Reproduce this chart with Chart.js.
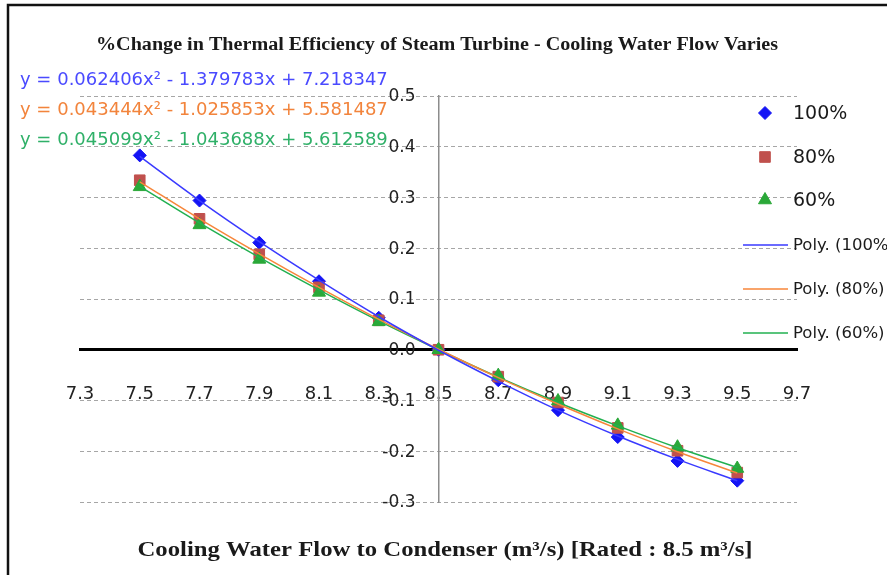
<!DOCTYPE html>
<html>
<head>
<meta charset="utf-8">
<script src="https://cdn.jsdelivr.net/npm/chart.js@4.4.1/dist/chart.umd.min.js"></script>
<style>
  html, body { margin: 0; padding: 0; background: #fff; }
</style>
</head>
<body>
<canvas id="myChart" width="887" height="575"></canvas>
<script>
// cooling water flow (m3/s)
var flow = [7.5, 7.7, 7.9, 8.1, 8.3, 8.5, 8.7, 8.9, 9.1, 9.3, 9.5];

// % change in thermal efficiency
var eff100 = [0.383, 0.294, 0.211, 0.135, 0.063, 0.0, -0.060, -0.119, -0.172, -0.219, -0.258];
var eff80 = [0.334, 0.258, 0.188, 0.123, 0.058, 0.0, -0.053, -0.104, -0.154, -0.199, -0.242];
var eff60 = [0.321, 0.246, 0.178, 0.113, 0.055, 0.0, -0.051, -0.101, -0.149, -0.192, -0.234];

// trend curves, read at the same flows
var trend100 = [0.381, 0.294, 0.213, 0.137, 0.065, -0.001, -0.062, -0.119, -0.170, -0.216, -0.258];
var trend80 = [0.331, 0.258, 0.189, 0.123, 0.060, 0.001, -0.055, -0.107, -0.156, -0.201, -0.243];
var trend60 = [0.322, 0.250, 0.182, 0.118, 0.057, 0.000, -0.054, -0.104, -0.150, -0.193, -0.232];

var xTicks = [7.3, 7.5, 7.7, 7.9, 8.1, 8.3, 8.5, 8.7, 8.9, 9.1, 9.3, 9.5, 9.7];
var yTicks = [-0.3, -0.2, -0.1, 0.0, 0.1, 0.2, 0.3, 0.4, 0.5];
var yAxisAt = 8.5;

var seriesNames = ["100%", "80%", "60%"];
var trendNames = ["Poly. (100%)", "Poly. (80%)", "Poly. (60%)"];
var equations = [
  "y = 0.062406x\u00b2 - 1.379783x + 7.218347",
  "y = 0.043444x\u00b2 - 1.025853x + 5.581487",
  "y = 0.045099x\u00b2 - 1.043688x + 5.612589"
];
var chartTitle = "%Change in Thermal Efficiency of Steam Turbine - Cooling Water Flow Varies";
var xTitle = "Cooling Water Flow to Condenser (m\u00b3/s) [Rated : 8.5 m\u00b3/s]";

var markerColors = ["#1414f5", "#c0504d", "#2aa838"];
var trendColors = ["#3a3aff", "#f7863a", "#22b050"];
var eqColors = ["#4a4aff", "#f2843c", "#2fb068"];
var markerStyles = ["rectRot", "rect", "triangle"];
var markerSizes = [6.5, 7.5, 7.5];

function pairs(ys) {
  return flow.map(function(x, i) { return { x: x, y: ys[i] }; });
}

var effData = [eff100, eff80, eff60];
var trendData = [trend100, trend80, trend60];
var datasets = [];

trendData.forEach(function(t, i) {
  datasets.push({
    label: trendNames[i],
    data: pairs(t),
    showLine: true,
    borderColor: trendColors[i],
    borderWidth: 1.5,
    pointRadius: 0,
    tension: 0.4,
    order: 1 + i
  });
});
effData.forEach(function(e, i) {
  datasets.push({
    label: seriesNames[i],
    data: pairs(e),
    showLine: false,
    pointStyle: markerStyles[i],
    pointRadius: markerSizes[i],
    backgroundColor: markerColors[i],
    borderColor: markerColors[i],
    borderWidth: 1,
    order: 6 - i
  });
});

// text squeezed or stretched to the width it has in the picture
function fitText(c, text, cx, cy, w) {
  var m = c.measureText(text).width;
  c.save();
  c.translate(cx, cy);
  c.scale(w / m, 1);
  c.textAlign = "center";
  c.fillText(text, 0, 0);
  c.restore();
}

var decor = {
  id: "decor",
  beforeDraw: function(chart) {
    var c = chart.ctx;
    c.save();
    c.fillStyle = "#fff";
    c.fillRect(0, 0, chart.width, chart.height);
    c.strokeStyle = "#111";
    c.lineWidth = 2.5;
    c.beginPath();
    c.moveTo(8, chart.height);
    c.lineTo(8, 5);
    c.lineTo(chart.width, 5);
    c.stroke();
    c.restore();
  },
  afterDraw: function(chart) {
    var c = chart.ctx;
    var xs = chart.scales.x, ys = chart.scales.y;
    c.save();
    c.textBaseline = "middle";

    // y tick labels sit left of the axis that crosses at 8.5
    c.fillStyle = "#222";
    c.textAlign = "right";
    c.font = "17px 'DejaVu Sans'";
    var ax = xs.getPixelForValue(yAxisAt);
    yTicks.forEach(function(v) {
      c.fillText(v.toFixed(1), ax - 23, ys.getPixelForValue(v) + 1);
    });

    c.fillStyle = "#1a1a1a";
    c.font = "bold 18px 'Liberation Serif'";
    fitText(c, chartTitle, 437, 45, 682);
    c.font = "bold 22px 'Liberation Serif'";
    fitText(c, xTitle, 445, 550, 615);

    c.textAlign = "left";
    c.font = "18px 'DejaVu Sans'";
    equations.forEach(function(eq, i) {
      c.fillStyle = eqColors[i];
      c.fillText(eq, 20, 80 + i * 30);
    });

    var ly = [113, 157, 200];
    seriesNames.forEach(function(name, i) {
      c.fillStyle = markerColors[i];
      c.strokeStyle = markerColors[i];
      c.lineWidth = 1;
      Chart.helpers.drawPoint(c, {
        pointStyle: markerStyles[i],
        radius: markerSizes[i],
        borderWidth: 1,
        rotation: 0
      }, 765, ly[i]);
      c.fillStyle = "#1a1a1a";
      c.font = "19px 'DejaVu Sans'";
      c.fillText(name, 793, ly[i] + 1);
    });
    var ty = [245, 289, 333];
    trendNames.forEach(function(name, i) {
      c.strokeStyle = trendColors[i];
      c.lineWidth = 1.5;
      c.beginPath();
      c.moveTo(743, ty[i]);
      c.lineTo(788, ty[i]);
      c.stroke();
      c.fillStyle = "#1a1a1a";
      c.font = "16.5px 'DejaVu Sans'";
      c.fillText(name, 793, ty[i] + 1);
    });
    c.restore();
  }
};

var ctx = document.getElementById("myChart");
var myChart = new Chart(ctx, {
  type: "scatter",
  data: { datasets: datasets },
  plugins: [decor],
  options: {
    responsive: false,
    animation: false,
    layout: { padding: { left: 80, right: 90, top: 96, bottom: 73 } },
    plugins: {
      legend: { display: false },
      tooltip: { enabled: false },
      title: { display: false }
    },
    scales: {
      x: {
        type: "linear",
        min: 7.3,
        max: 9.7,
        position: { y: 0 },
        afterBuildTicks: function(axis) {
          axis.ticks = xTicks.map(function(v) { return { value: v }; });
        },
        grid: { display: false, drawTicks: false },
        border: { color: "#000", width: 3 },
        ticks: {
          padding: 34,
          color: "#222",
          font: { family: "DejaVu Sans", size: 18 },
          callback: function(v) { return v.toFixed(1); }
        }
      },
      y: {
        type: "linear",
        min: -0.3,
        max: 0.5,
        position: { x: yAxisAt },
        afterBuildTicks: function(axis) {
          axis.ticks = yTicks.map(function(v) { return { value: v }; });
        },
        grid: {
          drawTicks: false,
          lineWidth: 1,
          color: function(c) {
            return c.tick && Math.abs(c.tick.value) < 1e-9 ? "rgba(0,0,0,0)" : "#a6a6a6";
          }
        },
        border: { color: "#8c8c8c", width: 1.5, dash: [4, 3] },
        ticks: { display: false }
      }
    }
  }
});
</script>
</body>
</html>
